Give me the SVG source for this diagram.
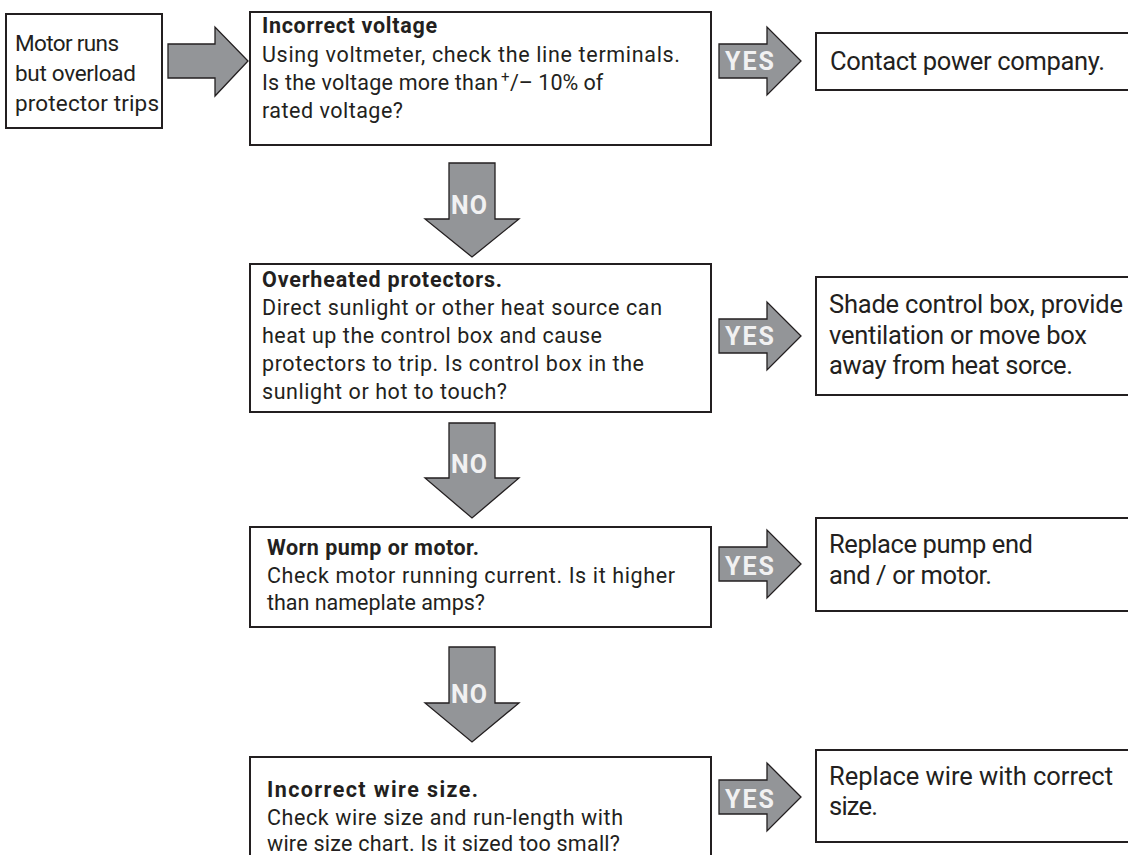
<svg xmlns="http://www.w3.org/2000/svg" width="1128" height="855" viewBox="0 0 1128 855">
<style>
.box{fill:#fff;stroke:#231f20;stroke-width:2}
.arr{fill:#939598;stroke:#231f20;stroke-width:1.3;stroke-linejoin:miter}
.t{font-family:Roboto,"Liberation Sans",sans-serif;font-size:21.5px;fill:#231f20}
.b{font-weight:700}
.m{font-size:22.5px}
.big{font-size:25.5px}
.lab{font-family:Roboto,"Liberation Sans",sans-serif;font-size:25px;font-weight:700;fill:#f1f1f2}
</style>
<rect width="1128" height="855" fill="#fff"/>
<g id="connectors">
  <polygon class="arr" points="168,44 215,44 215,27 248,61 215,96 215,78 168,78"/>
  <polygon class="arr" points="719,44 767,44 767,27 801,61 767,95 767,78 719,78"/>
  <text class="lab" x="725" y="70" textLength="49">YES</text>
  <polygon class="arr" points="449,163 495,163 495,219 519,219 472,257 425,219 449,219"/>
  <text class="lab" x="451" y="214" textLength="36">NO</text>
  <polygon class="arr" points="719,319 767,319 767,302 801,336 767,370 767,353 719,353"/>
  <text class="lab" x="725" y="345" textLength="49">YES</text>
  <polygon class="arr" points="449,423 495,423 495,478 519,478 472,518 425,478 449,478"/>
  <text class="lab" x="451" y="473" textLength="36">NO</text>
  <polygon class="arr" points="719,547 767,547 767,530 801,564 767,598 767,581 719,581"/>
  <text class="lab" x="725" y="575" textLength="49">YES</text>
  <polygon class="arr" points="449,647 495,647 495,703 519,703 472,742 425,703 449,703"/>
  <text class="lab" x="451" y="703" textLength="36">NO</text>
  <polygon class="arr" points="719,780 767,780 767,763 801,797 767,831 767,814 719,814"/>
  <text class="lab" x="725" y="808" textLength="49">YES</text>
</g>
<g id="start">
  <rect class="box" x="6" y="14" width="156" height="114"/>
  <text class="t m" x="15" y="51" textLength="104">Motor runs</text>
  <text class="t m" x="15" y="81" textLength="121">but overload</text>
  <text class="t m" x="15" y="111" textLength="144">protector trips</text>
</g>
<g id="voltage">
  <rect class="box" x="250" y="12" width="461" height="133"/>
  <text class="t b" x="262" y="33" textLength="175">Incorrect voltage</text>
  <text class="t" x="262" y="62" textLength="418">Using voltmeter, check the line terminals.</text>
  <text class="t" x="262" y="90"><tspan textLength="236">Is the voltage more than</tspan><tspan x="501" dy="-8" font-size="15">+</tspan><tspan x="510" dy="8">/– 10% of</tspan></text>
  <text class="t" x="262" y="118" textLength="141">rated voltage?</text>
</g>
<g id="power">
  <rect class="box" x="816" y="33" width="330" height="57"/>
  <text class="t big" x="830" y="70" textLength="275">Contact power company.</text>
</g>
<g id="overheated">
  <rect class="box" x="250" y="264" width="461" height="148"/>
  <text class="t b" x="262" y="287" textLength="240">Overheated protectors.</text>
  <text class="t" x="262" y="315" textLength="400">Direct sunlight or other heat source can</text>
  <text class="t" x="262" y="343" textLength="340">heat up the control box and cause</text>
  <text class="t" x="262" y="371" textLength="382">protectors to trip. Is control box in the</text>
  <text class="t" x="262" y="399" textLength="245">sunlight or hot to touch?</text>
</g>
<g id="shade">
  <rect class="box" x="816" y="277" width="330" height="118"/>
  <text class="t big" x="829" y="313" textLength="294">Shade control box, provide</text>
  <text class="t big" x="829" y="344" textLength="258">ventilation or move box</text>
  <text class="t big" x="829" y="374" textLength="244">away from heat sorce.</text>
</g>
<g id="worn">
  <rect class="box" x="250" y="527" width="461" height="100"/>
  <text class="t b" x="267" y="555" textLength="212">Worn pump or motor.</text>
  <text class="t" x="267" y="583" textLength="408">Check motor running current. Is it higher</text>
  <text class="t" x="267" y="610" textLength="218">than nameplate amps?</text>
</g>
<g id="replace-pump">
  <rect class="box" x="816" y="518" width="330" height="93"/>
  <text class="t big" x="829" y="553" textLength="204">Replace pump end</text>
  <text class="t big" x="829" y="584" textLength="163">and / or motor.</text>
</g>
<g id="wire">
  <rect class="box" x="250" y="757" width="461" height="120"/>
  <text class="t b" x="267" y="797" textLength="211">Incorrect wire size.</text>
  <text class="t" x="267" y="825" textLength="356">Check wire size and run-length with</text>
  <text class="t" x="267" y="851" textLength="353">wire size chart. Is it sized too small?</text>
</g>
<g id="replace-wire">
  <rect class="box" x="816" y="750" width="330" height="92"/>
  <text class="t big" x="829" y="785" textLength="284">Replace wire with correct</text>
  <text class="t big" x="829" y="815" textLength="49">size.</text>
</g>
</svg>
